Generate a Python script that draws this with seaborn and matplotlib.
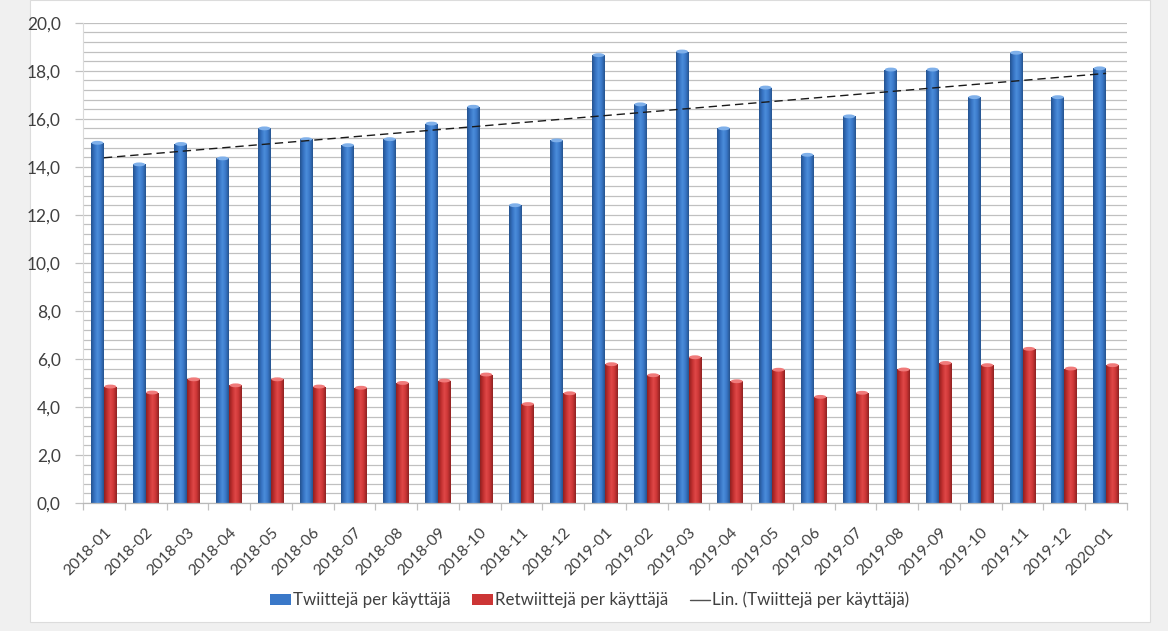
import numpy as np
import pandas as pd
import matplotlib
matplotlib.use("Agg")
import matplotlib.pyplot as plt
import seaborn as sns
from matplotlib.lines import Line2D
from matplotlib.patches import Rectangle, Ellipse, Patch
from matplotlib.colors import LinearSegmentedColormap
from matplotlib.ticker import MultipleLocator, FuncFormatter

# --- data -------------------------------------------------------------------
months = [
    "2018-01", "2018-02", "2018-03", "2018-04", "2018-05", "2018-06",
    "2018-07", "2018-08", "2018-09", "2018-10", "2018-11", "2018-12",
    "2019-01", "2019-02", "2019-03", "2019-04", "2019-05", "2019-06",
    "2019-07", "2019-08", "2019-09", "2019-10", "2019-11", "2019-12",
    "2020-01",
]
tweets = [
    15.0, 14.1, 14.95, 14.35, 15.6, 15.15, 14.9, 15.15, 15.8, 16.5, 12.4, 15.1,
    18.65, 16.6, 18.8, 15.6, 17.3, 14.5, 16.1, 18.05, 18.05, 16.9, 18.75, 16.9,
    18.1,
]
retweets = [
    4.85, 4.6, 5.15, 4.9, 5.15, 4.85, 4.8, 5.0, 5.1, 5.35, 4.12, 4.57,
    5.78, 5.32, 6.07, 5.07, 5.55, 4.42, 4.59, 5.56, 5.83, 5.74, 6.42, 5.6,
    5.74,
]
series_names = ["Twiittejä per käyttäjä", "Retwiittejä per käyttäjä"]
trend_label = "Lin. (Twiittejä per käyttäjä)"

# --- style ------------------------------------------------------------------
sns.set_theme(style="white")
plt.rcParams["font.family"] = ["Lato", "DejaVu Sans"]
TEXT = "#404040"
GRID = "#c0c0c0"
BLUE = "#3a78c8"
RED = "#cc3535"

W, H = 1168, 631
fig = plt.figure(figsize=(W / 100, H / 100), dpi=100, facecolor="#f0f0f0")
# white chart panel behind everything
fig.patches.append(Rectangle((30 / W, 9 / H), 1120 / W, 622 / H,
                             transform=fig.transFigure, facecolor="white",
                             edgecolor="#dcdcdc", lw=0.8, zorder=-10))

ax = fig.add_axes([83 / W, 128 / H, 1044 / W, 480.3 / H])
ax.set_facecolor("none")
ax.set_zorder(1)

df = pd.DataFrame({
    "month": months * 2,
    "value": tweets + retweets,
    "series": [series_names[0]] * len(months) + [series_names[1]] * len(months),
})

sns.barplot(data=df, x="month", y="value", hue="series",
            palette=[BLUE, RED], width=0.62, dodge=True, saturation=1,
            legend=False, edgecolor="none", ax=ax, zorder=2)

# cylinder-like shading on each bar
shade = {
    "blue": LinearSegmentedColormap.from_list(
        "b", ["#24528f", "#3571c0", "#4b8ddb", "#3a78c8", "#26548f"]),
    "red": LinearSegmentedColormap.from_list(
        "r", ["#8f2020", "#c23030", "#e04848", "#cc3535", "#8e2222"]),
}
cap = {"blue": "#7fb0ea", "red": "#f07a7a"}
grad = np.linspace(0, 1, 64)[None, :]
for p in list(ax.patches):
    h = p.get_height()
    if not np.isfinite(h) or h <= 0:
        continue
    x0, w = p.get_x(), p.get_width()
    r, g, b, _ = p.get_facecolor()
    key = "blue" if b > r else "red"
    im = ax.imshow(grad, cmap=shade[key], extent=(x0, x0 + w, 0, h),
                   aspect="auto", zorder=2.1, interpolation="bilinear")
    im.set_clip_path(p)
    ax.add_patch(Ellipse((x0 + w / 2, h), w * 0.92, 0.16,
                         facecolor=cap[key], edgecolor="none", zorder=2.2))

# linear trend of the tweet series
xi = np.arange(len(months))
coef = np.polyfit(xi, tweets, 1)
xs = np.array([xi[0], xi[-1]])
ax.plot(xs, np.polyval(coef, xs), color="#1a1a1a", lw=1.0,
        ls=(0, (6, 3.5)), zorder=5)

# --- axes -------------------------------------------------------------------
ax.set_xlim(-0.5, len(months) - 0.5)
ax.set_ylim(0, 20)
ax.yaxis.set_major_locator(MultipleLocator(2))
ax.yaxis.set_minor_locator(MultipleLocator(0.4))
ax.yaxis.set_major_formatter(FuncFormatter(lambda v, _: f"{v:.1f}".replace(".", ",")))
ax.grid(which="both", axis="y", color=GRID, lw=0.9)
ax.grid(False, axis="x")
ax.set_axisbelow(True)

ax.tick_params(axis="y", which="major", left=True, length=6, width=0.9,
               color=GRID, pad=10, labelsize=12.5, labelcolor=TEXT)
ax.tick_params(axis="y", which="minor", left=False)

ax.set_xticks(xi)
ax.set_xticklabels(months, rotation=45, ha="right", rotation_mode="anchor",
                   fontsize=11.3, color=TEXT)
ax.set_xticks(np.arange(-0.5, len(months), 1), minor=True)
ax.tick_params(axis="x", which="major", bottom=False, pad=10)
ax.tick_params(axis="x", which="minor", bottom=True, length=5, width=0.9,
               color=GRID)
ax.set_xlabel("")
ax.set_ylabel("")

for side in ("top", "right"):
    ax.spines[side].set_visible(False)
ax.spines["left"].set_color("#dadada")
ax.spines["left"].set_linewidth(0.8)
ax.spines["bottom"].set_color("#b8b8b8")
ax.spines["bottom"].set_linewidth(0.9)

# --- legend -----------------------------------------------------------------
handles = [
    Patch(facecolor=BLUE, edgecolor="none"),
    Patch(facecolor=RED, edgecolor="none"),
    Line2D([], [], color="#505050", lw=1.0),
]
fig.legend(handles, series_names + [trend_label], loc="center",
           bbox_to_anchor=(590 / W, 1 - 600 / H), ncol=3, frameon=False,
           fontsize=12.2, labelcolor=TEXT, handlelength=1.2, handleheight=0.6,
           handletextpad=0.12, columnspacing=1.3)

fig.savefig("out.png", dpi=100, facecolor=fig.get_facecolor())
